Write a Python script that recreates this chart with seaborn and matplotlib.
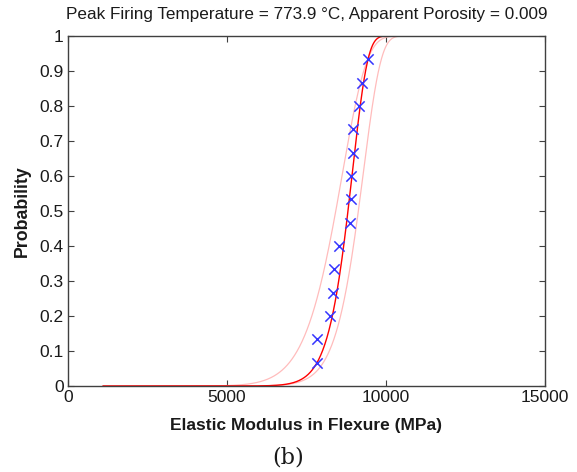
import numpy as np
import pandas as pd
import matplotlib
matplotlib.use("Agg")
import matplotlib.pyplot as plt
import seaborn as sns

# Measured elastic modulus values (MPa) and their plotting-position probabilities
modulus = [7825, 7840, 8230, 8345, 8365, 8513, 8870, 8890, 8915, 8955, 8972, 9155, 9236, 9425]
probability = [1/15, 2/15, 3/15, 4/15, 5/15, 6/15, 7/15, 8/15, 9/15, 10/15, 11/15, 12/15, 13/15, 14/15]

# Weibull fit (scale, shape) and its confidence bounds
fit_scale, fit_shape = 8970.0, 19.7
lower_scale, lower_shape = 8680.0, 12.1
upper_scale, upper_shape = 9320.0, 17.9
curve_range = (1100.0, 11500.0)

x_ticks = [0, 5000, 10000, 15000]
y_ticks = [0, 0.1, 0.2, 0.3, 0.4, 0.5, 0.6, 0.7, 0.8, 0.9, 1.0]
y_tick_labels = ["0", "0.1", "0.2", "0.3", "0.4", "0.5", "0.6", "0.7", "0.8", "0.9", "1"]

title = "Peak Firing Temperature = 773.9 \u00b0C, Apparent Porosity = 0.009"
x_label = "Elastic Modulus in Flexure (MPa)"
y_label = "Probability"
caption = "(b)"


def weibull_cdf(x, scale, shape):
    return 1.0 - np.exp(-(x / scale) ** shape)


sns.set_style("white")
plt.rcParams["font.family"] = ["Liberation Sans", "DejaVu Sans"]

fig = plt.figure(figsize=(5.77, 4.72), dpi=100)
ax = fig.add_axes([0.1178, 0.1822, 0.8267, 0.7415])

xs = np.linspace(curve_range[0], curve_range[1], 800)
curves = pd.DataFrame({
    "x": xs,
    "fit": weibull_cdf(xs, fit_scale, fit_shape),
    "lower": weibull_cdf(xs, lower_scale, lower_shape),
    "upper": weibull_cdf(xs, upper_scale, upper_shape),
})

sns.lineplot(data=curves, x="x", y="lower", ax=ax, color="#ffbcbc", linewidth=0.9)
sns.lineplot(data=curves, x="x", y="upper", ax=ax, color="#ffbcbc", linewidth=0.9)
sns.lineplot(data=curves, x="x", y="fit", ax=ax, color="#ff0000", linewidth=1.0)

points = pd.DataFrame({"modulus": modulus, "probability": probability})
sns.scatterplot(data=points, x="modulus", y="probability", ax=ax, marker="x",
                color="#3535ff", s=55, linewidth=1.1, zorder=5)

ax.set_xlim(0, 15000)
ax.set_ylim(0, 1)
ax.set_xticks(x_ticks)
ax.set_xticklabels([str(t) for t in x_ticks])
ax.set_yticks(y_ticks)
ax.set_yticklabels(y_tick_labels)
ax.tick_params(direction="in", length=4, width=0.8, color="#404040",
               top=True, right=True, bottom=True, left=True,
               labelsize=12.5, labelcolor="#1a1a1a", pad=3)
for side in ax.spines.values():
    side.set_visible(True)
    side.set_color("#404040")
    side.set_linewidth(1.0)

ax.set_title(title, fontsize=12.3, color="#1a1a1a", pad=12)
ax.set_xlabel(x_label, fontsize=12.5, fontweight="bold", color="#1a1a1a", labelpad=9)
ax.set_ylabel(y_label, fontsize=12.8, fontweight="bold", color="#1a1a1a", labelpad=6)

fig.text(0.499, 0.031, caption, fontsize=16, family=["DejaVu Serif"], color="#1a1a1a",
         ha="center", va="center")

fig.savefig("out.png", dpi=100, facecolor="white")
